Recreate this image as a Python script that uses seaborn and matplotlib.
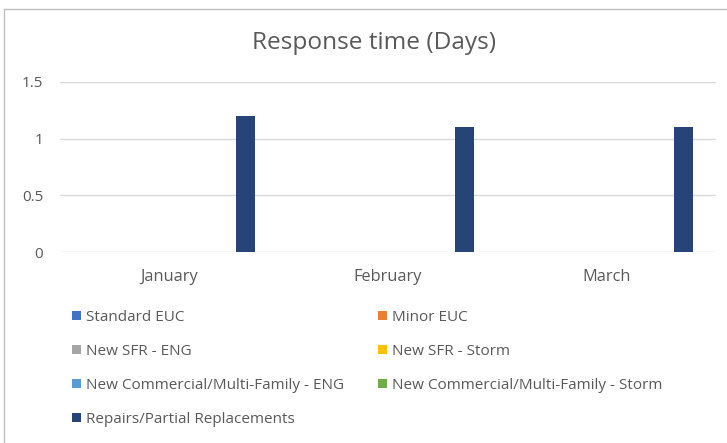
import matplotlib
matplotlib.use('Agg')
import matplotlib.pyplot as plt
import seaborn as sns
import pandas as pd
from matplotlib.lines import Line2D

months = ['January', 'February', 'March']
series = [
    'Standard EUC',
    'Minor EUC',
    'New SFR - ENG',
    'New SFR - Storm',
    'New Commercial/Multi-Family - ENG',
    'New Commercial/Multi-Family - Storm',
    'Repairs/Partial Replacements',
]
standard_euc = [0, 0, 0]
minor_euc = [0, 0, 0]
new_sfr_eng = [0, 0, 0]
new_sfr_storm = [0, 0, 0]
new_comm_eng = [0, 0, 0]
new_comm_storm = [0, 0, 0]
repairs = [1.2, 1.1, 1.1]
yticks = [0, 0.5, 1, 1.5]
colors = ['#4472C4', '#ED7D31', '#A5A5A5', '#FFC000', '#5B9BD5', '#70AD47', '#264478']

values = [standard_euc, minor_euc, new_sfr_eng, new_sfr_storm,
          new_comm_eng, new_comm_storm, repairs]
rows = []
for name, vals in zip(series, values):
    for m, v in zip(months, vals):
        rows.append({'Month': m, 'Series': name, 'Days': v})
df = pd.DataFrame(rows)

sns.set_style('white')
plt.rcParams['font.family'] = ['Open Sans', 'DejaVu Sans']
text_color = '#595959'

fig = plt.figure(figsize=(7.27, 4.43), dpi=100)
ax = fig.add_axes([60 / 727, 1 - 252 / 443, 656 / 727, 170 / 443])

sns.barplot(data=df, x='Month', y='Days', hue='Series', order=months,
            hue_order=series, palette=colors, saturation=1, width=0.816,
            gap=0.25, linewidth=0, ax=ax)

ax.set_ylim(0, 1.5)
ax.set_yticks(yticks)
ax.set_yticklabels(['0', '0.5', '1', '1.5'])
ax.set_xlim(-0.5, 2.5)
ax.grid(axis='y', color='#d9d9d9', linewidth=1)
ax.set_axisbelow(True)
for s in ax.spines.values():
    s.set_visible(False)
ax.tick_params(axis='y', length=0, labelsize=11, labelcolor=text_color, pad=12)
ax.tick_params(axis='x', length=0, labelsize=11.8, labelcolor=text_color, pad=12)
ax.set_xlabel('')
ax.set_ylabel('')

fig.text(374 / 727, 1 - 43 / 443, 'Response time (Days)', ha='center', va='center',
         fontsize=17.6, color=text_color)

# legend in row-major order, two columns
handles, labels = ax.get_legend_handles_labels()
order = [0, 2, 4, 6, 1, 3, 5]
ax.legend([handles[i] for i in order], [labels[i] for i in order],
          ncol=2, loc='upper left', bbox_to_anchor=(66 / 727, 1 - 304 / 443),
          bbox_transform=fig.transFigure, frameon=False, fontsize=11,
          labelcolor=text_color, handlelength=0.55, handleheight=0.55,
          handletextpad=0.35, labelspacing=1.24, columnspacing=2.25,
          borderaxespad=0)

# chart border (cropped at right and bottom)
fig.add_artist(Line2D([4 / 727, 4 / 727], [0, 1 - 9 / 443], color='#bfbfbf', linewidth=1))
fig.add_artist(Line2D([4 / 727, 1], [1 - 9 / 443, 1 - 9 / 443], color='#bfbfbf', linewidth=1))

fig.savefig('out.png', dpi=100)
plt.close(fig)
